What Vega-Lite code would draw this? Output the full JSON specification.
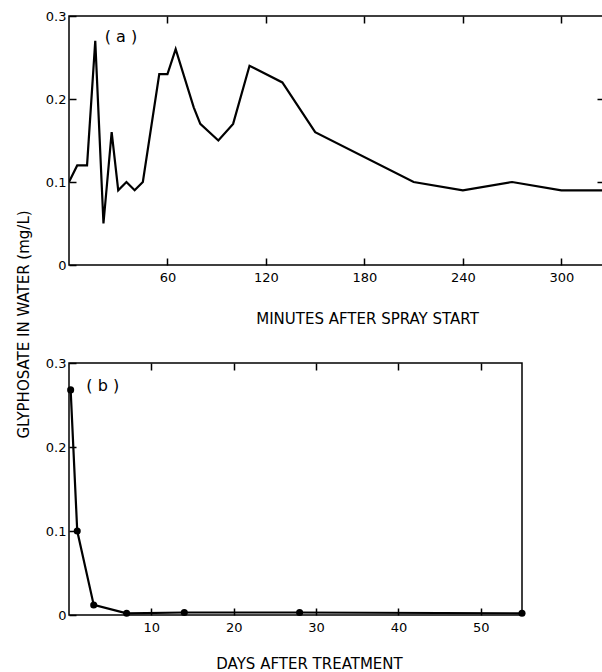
{
  "$schema": "https://vega.github.io/schema/vega-lite/v6.json",
  "padding": {"left": 15, "top": 9, "right": 0, "bottom": 0},
  "bounds": "flush",
  "spacing": 98,
  "background": "white",
  "config": {
    "view": {"stroke": "black", "strokeWidth": 1.5},
    "axis": {
      "domain": false,
      "grid": false,
      "labelFont": "DejaVu Sans",
      "labelFontSize": 13,
      "labelColor": "black",
      "tickColor": "black",
      "tickWidth": 1.5,
      "tickSize": -7,
      "titleFont": "DejaVu Sans",
      "titleFontSize": 15,
      "titleFontWeight": "normal",
      "titleColor": "black"
    }
  },
  "datasets": {
    "a": [
      {"minutes": 0, "conc": 0.10},
      {"minutes": 5, "conc": 0.12},
      {"minutes": 11, "conc": 0.12},
      {"minutes": 16, "conc": 0.27},
      {"minutes": 21, "conc": 0.05},
      {"minutes": 26, "conc": 0.16},
      {"minutes": 30, "conc": 0.09},
      {"minutes": 35, "conc": 0.10},
      {"minutes": 40, "conc": 0.09},
      {"minutes": 45, "conc": 0.10},
      {"minutes": 55, "conc": 0.23},
      {"minutes": 60, "conc": 0.23},
      {"minutes": 65, "conc": 0.26},
      {"minutes": 76, "conc": 0.19},
      {"minutes": 80, "conc": 0.17},
      {"minutes": 91, "conc": 0.15},
      {"minutes": 100, "conc": 0.17},
      {"minutes": 110, "conc": 0.24},
      {"minutes": 130, "conc": 0.22},
      {"minutes": 150, "conc": 0.16},
      {"minutes": 210, "conc": 0.10},
      {"minutes": 240, "conc": 0.09},
      {"minutes": 270, "conc": 0.10},
      {"minutes": 300, "conc": 0.09},
      {"minutes": 330, "conc": 0.09}
    ],
    "b": [
      {"days": 0.2, "conc": 0.268},
      {"days": 1, "conc": 0.10},
      {"days": 3, "conc": 0.012},
      {"days": 7, "conc": 0.002},
      {"days": 14, "conc": 0.003},
      {"days": 28, "conc": 0.003},
      {"days": 55, "conc": 0.002}
    ],
    "labA": [{"minutes": 31.7, "conc": 0.275, "label": "( a )"}],
    "labB": [{"days": 4.1, "conc": 0.273, "label": "( b )"}]
  },
  "vconcat": [
    {
      "width": 535,
      "height": 249,
      "resolve": {"axis": {"x": "independent", "y": "independent"}},
      "layer": [
        {
          "data": {"name": "a"},
          "mark": {"type": "line", "color": "black", "strokeWidth": 2.2, "clip": true},
          "encoding": {
            "x": {
              "field": "minutes", "type": "quantitative",
              "scale": {"domain": [0, 326], "nice": false, "zero": false},
              "axis": {
                "orient": "bottom", "values": [60, 120, 180, 240, 300],
                "labelPadding": 13,
                "title": "MINUTES AFTER SPRAY START",
                "titleX": 298, "titleY": 53, "titleAlign": "center", "titleBaseline": "middle"
              }
            },
            "y": {
              "field": "conc", "type": "quantitative",
              "scale": {"domain": [0, 0.3], "nice": false},
              "axis": {
                "orient": "left", "values": [0, 0.1, 0.2, 0.3],
                "labelExpr": "datum.value == 0 ? '0' : format(datum.value, '.1f')",
                "labelPadding": 10,
                "title": "GLYPHOSATE IN WATER (mg/L)",
                "titleX": -46, "titleY": 308, "titleAngle": 270,
                "titleAlign": "center", "titleBaseline": "middle"
              }
            }
          }
        },
        {
          "data": {"name": "labA"},
          "mark": {"type": "text", "font": "DejaVu Sans", "fontSize": 16, "color": "black"},
          "encoding": {
            "x": {
              "field": "minutes", "type": "quantitative",
              "axis": {"orient": "top", "values": [60, 120, 180, 240, 300], "labels": false, "title": null}
            },
            "y": {
              "field": "conc", "type": "quantitative",
              "axis": {"orient": "right", "values": [0.1, 0.2], "labels": false, "title": null}
            },
            "text": {"field": "label"}
          }
        }
      ]
    },
    {
      "width": 453,
      "height": 252,
      "resolve": {"axis": {"x": "independent", "y": "independent"}},
      "layer": [
        {
          "data": {"name": "b"},
          "mark": {"type": "line", "color": "black", "strokeWidth": 2.2, "point": {"filled": true, "size": 50, "color": "black"}},
          "encoding": {
            "x": {
              "field": "days", "type": "quantitative",
              "scale": {"domain": [0, 55], "nice": false, "zero": false},
              "axis": {
                "orient": "bottom", "values": [10, 20, 30, 40, 50],
                "labelPadding": 13,
                "title": "DAYS AFTER TREATMENT",
                "titleX": 240, "titleY": 48, "titleAlign": "center", "titleBaseline": "middle"
              }
            },
            "y": {
              "field": "conc", "type": "quantitative",
              "scale": {"domain": [0, 0.3], "nice": false},
              "axis": {
                "orient": "left", "values": [0, 0.1, 0.2, 0.3],
                "labelExpr": "datum.value == 0 ? '0' : format(datum.value, '.1f')",
                "labelPadding": 10,
                "title": null
              }
            }
          }
        },
        {
          "data": {"name": "labB"},
          "mark": {"type": "text", "font": "DejaVu Sans", "fontSize": 16, "color": "black"},
          "encoding": {
            "x": {
              "field": "days", "type": "quantitative",
              "axis": {"orient": "top", "values": [10, 20, 30, 40, 50], "labels": false, "title": null}
            },
            "y": {
              "field": "conc", "type": "quantitative",
              "axis": null
            },
            "text": {"field": "label"}
          }
        }
      ]
    }
  ]
}
